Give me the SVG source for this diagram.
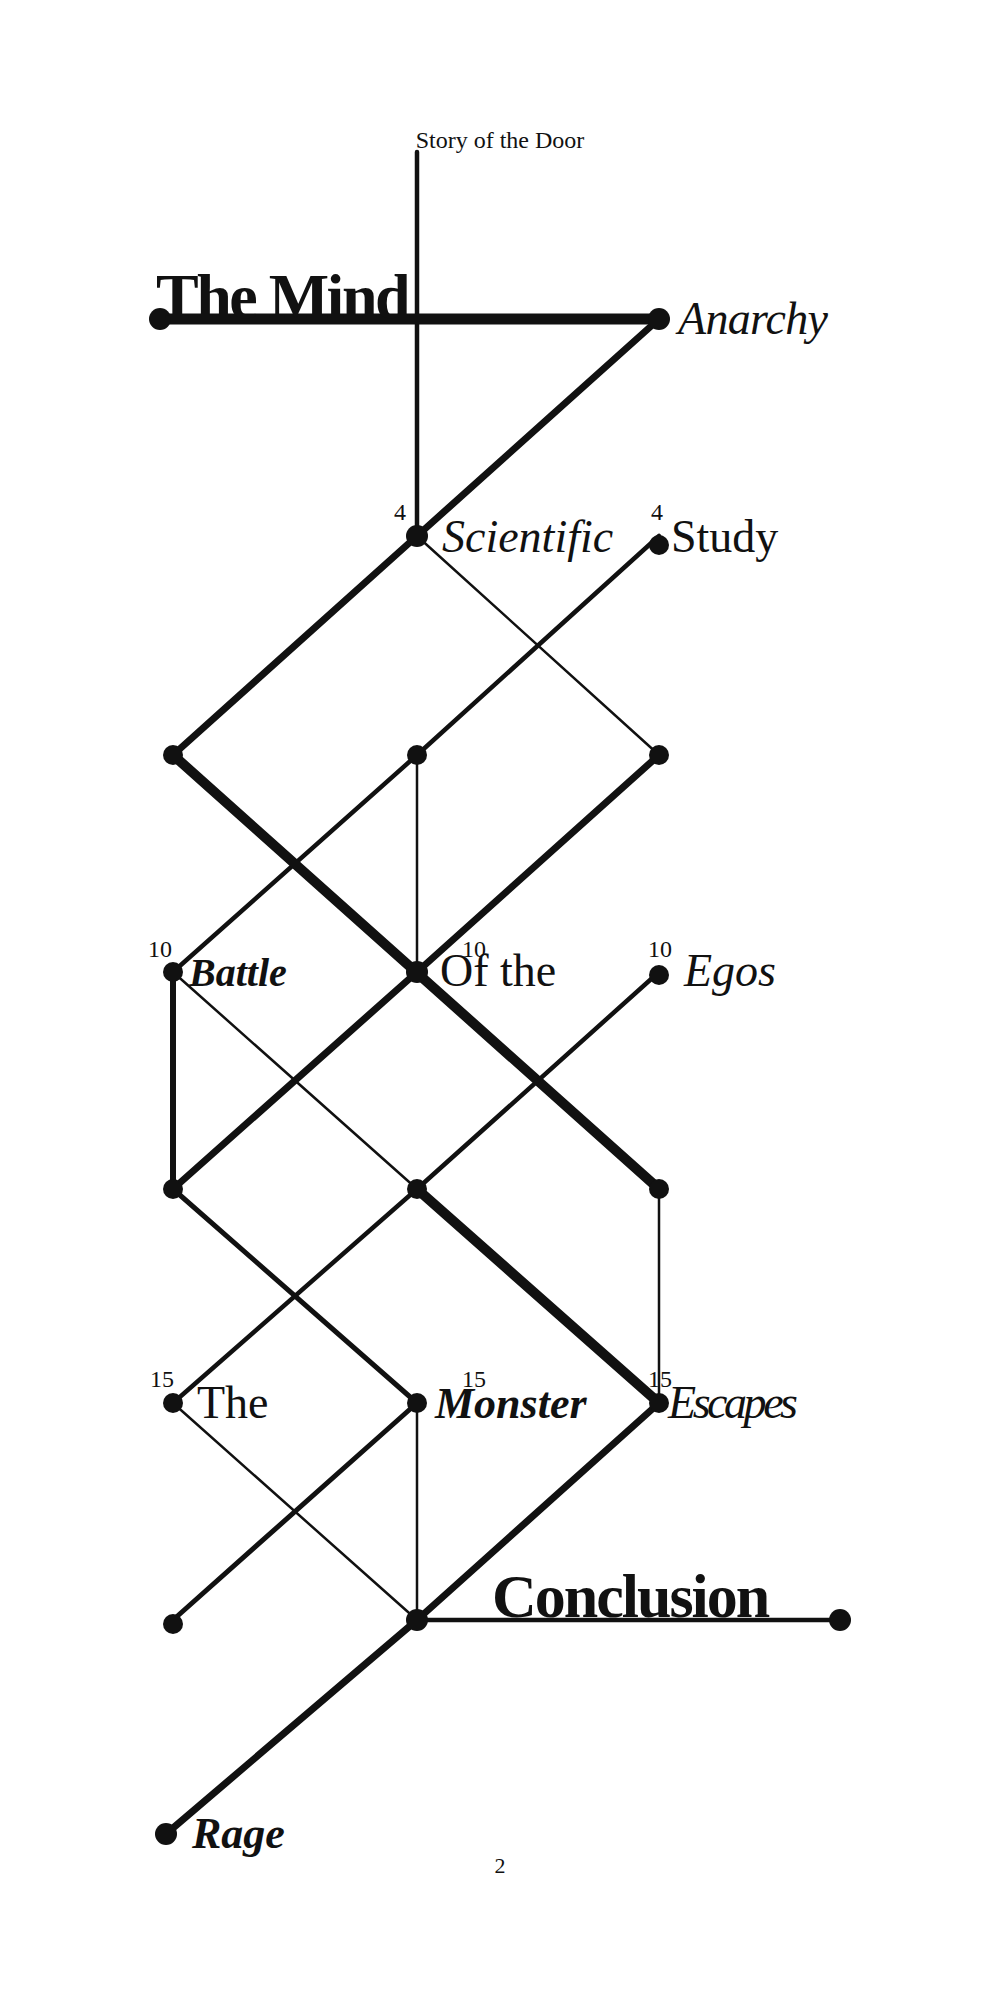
<svg xmlns="http://www.w3.org/2000/svg" width="1000" height="2000" viewBox="0 0 1000 2000">
<style>
text{font-family:"Liberation Serif",serif;fill:#111}
.e line{stroke:#111;stroke-linecap:round}
.n circle{fill:#111}
.num{font-size:24px}
.lbl{font-size:46px}
</style>
<rect width="1000" height="2000" fill="#fff"/>
<g id="connectors" class="e">
<line x1="417" y1="152" x2="417" y2="536" stroke-width="4.5"/>
<line x1="160" y1="319" x2="659" y2="319" stroke-width="11"/>
<line x1="659" y1="319" x2="417" y2="536" stroke-width="7"/>
<line x1="417" y1="536" x2="173" y2="755" stroke-width="7"/>
<line x1="417" y1="536" x2="659" y2="755" stroke-width="2.5"/>
<line x1="659" y1="536" x2="417" y2="755" stroke-width="4.5"/>
<line x1="417" y1="755" x2="173" y2="972" stroke-width="4.5"/>
<line x1="417" y1="755" x2="417" y2="972" stroke-width="2.5"/>
<line x1="173" y1="755" x2="659" y2="1189" stroke-width="10"/>
<line x1="659" y1="755" x2="417" y2="972" stroke-width="7"/>
<line x1="417" y1="972" x2="173" y2="1189" stroke-width="7"/>
<line x1="173" y1="972" x2="173" y2="1189" stroke-width="6"/>
<line x1="173" y1="972" x2="417" y2="1189" stroke-width="2.5"/>
<line x1="659" y1="972" x2="417" y2="1189" stroke-width="4.5"/>
<line x1="417" y1="1189" x2="173" y2="1403" stroke-width="4.5"/>
<line x1="417" y1="1189" x2="659" y2="1403" stroke-width="10"/>
<line x1="659" y1="1189" x2="659" y2="1403" stroke-width="2.5"/>
<line x1="173" y1="1189" x2="417" y2="1403" stroke-width="5"/>
<line x1="173" y1="1403" x2="417" y2="1620" stroke-width="2.5"/>
<line x1="417" y1="1403" x2="173" y2="1620" stroke-width="5"/>
<line x1="417" y1="1403" x2="417" y2="1620" stroke-width="2.5"/>
<line x1="659" y1="1403" x2="417" y2="1620" stroke-width="7"/>
<line x1="417" y1="1620" x2="166" y2="1834" stroke-width="7"/>
<line x1="417" y1="1620" x2="840" y2="1620" stroke-width="4.5"/>
</g>
<g id="title"><text x="500" y="148" font-size="24" text-anchor="middle">Story of the Door</text></g>
<g id="mind" class="n"><circle cx="160" cy="319" r="11"/><text x="156" y="318" font-size="64" font-weight="bold" letter-spacing="-2.5">The Mind</text></g>
<g id="anarchy" class="n"><circle cx="659" cy="319" r="11"/><text x="678" y="334" font-size="46" font-style="italic" textLength="150">Anarchy</text></g>
<g id="scientific" class="n"><circle cx="417" cy="536" r="11"/><text x="394" y="520" class="num">4</text><text x="442" y="552" class="lbl" font-style="italic">Scientific</text></g>
<g id="study" class="n"><circle cx="659" cy="545" r="10"/><text x="651" y="520" class="num">4</text><text x="671" y="552" class="lbl">Study</text></g>
<g id="r2l" class="n"><circle cx="173" cy="755" r="10"/></g>
<g id="r2m" class="n"><circle cx="417" cy="755" r="10"/></g>
<g id="r2r" class="n"><circle cx="659" cy="755" r="10"/></g>
<g id="battle" class="n"><circle cx="173" cy="972" r="10"/><text x="148" y="957" class="num">10</text><text x="189" y="986" font-size="40" font-weight="bold" font-style="italic">Battle</text></g>
<g id="ofthe" class="n"><circle cx="417" cy="972" r="11"/><text x="462" y="957" class="num">10</text><text x="440" y="986" class="lbl">Of the</text></g>
<g id="egos" class="n"><circle cx="659" cy="975" r="10"/><text x="648" y="957" class="num">10</text><text x="684" y="986" class="lbl" font-style="italic">Egos</text></g>
<g id="r4l" class="n"><circle cx="173" cy="1189" r="10"/></g>
<g id="r4m" class="n"><circle cx="417" cy="1189" r="10"/></g>
<g id="r4r" class="n"><circle cx="659" cy="1189" r="10"/></g>
<g id="the" class="n"><circle cx="173" cy="1403" r="10"/><text x="150" y="1387" class="num">15</text><text x="197" y="1418" class="lbl">The</text></g>
<g id="monster" class="n"><circle cx="417" cy="1403" r="10"/><text x="462" y="1387" class="num">15</text><text x="435" y="1418" font-size="44" font-weight="bold" font-style="italic">Monster</text></g>
<g id="escapes" class="n"><circle cx="659" cy="1403" r="10"/><text x="648" y="1387" class="num">15</text><text x="668" y="1418" font-size="46" font-style="italic" textLength="130">Escapes</text></g>
<g id="r6l" class="n"><circle cx="173" cy="1624" r="10"/></g>
<g id="conclusion" class="n"><circle cx="417" cy="1620" r="11"/><text x="492" y="1617" font-size="62" font-weight="bold" letter-spacing="-2">Conclusion</text></g>
<g id="conclusion-end" class="n"><circle cx="840" cy="1620" r="11"/></g>
<g id="rage" class="n"><circle cx="166" cy="1834" r="11"/><text x="192" y="1848" font-size="44" font-weight="bold" font-style="italic">Rage</text></g>
<g id="page"><text x="500" y="1873" font-size="22" text-anchor="middle">2</text></g>
</svg>
